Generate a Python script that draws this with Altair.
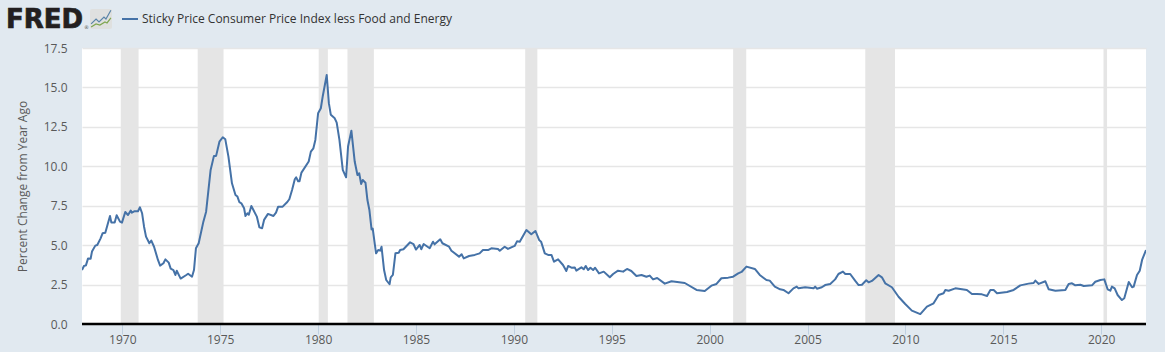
import altair as alt
import pandas as pd

SERIES = "Sticky Price Consumer Price Index less Food and Energy"

years = [
1967.94,1968.04,1968.14,1968.25,1968.38,1968.45,1968.62,1968.72,1968.89,1968.99,1969.13,1969.37,1969.44,1969.61,1969.71,1969.88,1969.98,
1970.15,1970.29,1970.43,1970.49,1970.63,1970.80,1970.90,1971.01,1971.11,1971.21,1971.38,1971.48,1971.62,1971.82,1971.93,
1972.10,1972.20,1972.37,1972.47,1972.61,1972.71,1972.78,1972.98,1973.25,1973.36,1973.56,1973.66,1973.76,1973.90,
1974.14,1974.28,1974.51,1974.68,1974.79,1974.96,1975.13,1975.26,1975.42,1975.60,1975.78,1975.88,1975.98,
1976.08,1976.22,1976.29,1976.39,1976.46,1976.59,1976.87,1977.00,1977.14,1977.24,1977.44,1977.72,1977.85,1977.96,
1978.19,1978.40,1978.53,1978.67,1978.81,1978.88,1978.98,1979.05,1979.15,1979.52,1979.63,1979.76,1979.86,
1980.00,1980.14,1980.24,1980.44,1980.55,1980.65,1980.85,1980.95,1981.09,1981.26,1981.43,1981.53,1981.70,1981.87,
1982.01,1982.10,1982.20,1982.28,1982.42,1982.52,1982.62,1982.73,1982.79,1982.96,1983.07,1983.17,1983.24,1983.37,1983.48,1983.65,1983.71,1983.82,1983.95,
1984.12,1984.19,1984.36,1984.70,1984.87,1985.00,
1985.19,1985.27,1985.39,1985.70,1985.87,1985.95,1986.24,1986.35,1986.69,1986.81,1987.20,1987.33,1987.44,1987.71,
1988.00,1988.25,1988.42,1988.68,1988.85,1989.19,1989.28,1989.53,1989.70,1990.04,1990.16,1990.30,1990.64,1990.89,
1991.10,1991.29,1991.39,1991.58,1991.75,1991.92,1992.05,1992.26,1992.51,1992.68,1992.77,1992.94,1993.11,1993.19,1993.45,1993.57,1993.67,1993.79,1993.91,
1994.05,1994.15,1994.35,1994.59,1994.90,1995.07,1995.32,1995.58,1995.78,1996.00,1996.26,1996.52,1996.77,1996.94,1997.11,1997.32,1997.71,
1998.05,1998.73,1999.33,1999.75,2000.09,2000.35,2000.60,2000.95,2001.20,2001.46,2001.63,2001.88,2002.31,2002.56,2002.90,2003.07,2003.33,2003.60,
2003.77,2004.03,2004.28,2004.45,2004.54,2004.88,2005.31,2005.39,2005.48,2005.73,2005.90,2006.16,2006.41,2006.58,2006.81,2006.93,2007.18,2007.44,2007.61,2007.78,
2008.00,2008.12,2008.29,2008.63,2008.80,2008.97,2009.31,2009.65,2009.99,2010.33,2010.76,2011.10,2011.44,2011.70,2011.95,2012.04,2012.21,2012.55,2012.89,
2013.14,2013.40,2013.65,2013.91,2014.17,2014.34,2014.51,2014.68,2015.19,2015.53,2015.87,2016.29,2016.55,2016.64,2016.81,2017.15,2017.32,2017.66,
2018.17,2018.34,2018.51,2018.68,2018.94,2019.11,2019.53,2019.70,2019.96,2020.16,2020.33,2020.47,2020.55,2020.69,2020.84,2021.06,2021.18,2021.41,2021.58,2021.66,2021.83,2021.97,2022.09,2022.29,
]
values = [
3.42,3.68,3.72,4.16,4.14,4.59,4.97,5.01,5.43,5.75,5.79,6.85,6.43,6.43,6.89,6.49,6.43,
7.10,6.91,7.19,7.06,7.15,7.15,7.40,7.02,6.17,5.54,5.12,5.29,4.90,4.06,3.70,
3.85,4.10,3.89,3.51,3.42,3.11,3.38,2.88,3.09,3.19,3.00,3.42,4.80,5.12,
6.49,7.12,9.77,10.66,10.66,11.56,11.84,11.71,10.61,8.92,8.18,8.08,7.72,
7.65,7.34,6.85,7.02,6.93,7.48,6.81,6.13,6.07,6.60,6.98,6.85,7.06,7.44,
7.44,7.70,7.91,8.50,9.18,9.30,9.05,9.05,9.60,10.30,10.93,11.14,11.67,
13.36,13.68,14.46,15.79,14.00,13.26,13.04,12.77,11.67,9.77,9.30,11.25,12.26,10.30,
9.45,9.56,8.88,9.13,8.96,7.86,7.23,6.00,6.05,4.48,4.69,4.65,4.90,3.42,2.79,2.52,2.96,3.11,4.48,
4.52,4.69,4.74,5.18,5.07,4.72,
5.01,4.74,5.07,4.80,5.22,5.05,5.37,5.12,4.90,4.65,4.27,4.42,4.16,4.31,
4.38,4.48,4.69,4.69,4.80,4.76,4.65,4.90,4.76,4.95,5.24,5.22,5.96,5.69,
5.90,5.33,5.22,4.48,4.38,4.38,3.95,4.10,3.74,3.36,3.68,3.57,3.59,3.38,3.59,3.47,3.68,3.42,3.57,
3.42,3.57,3.21,3.32,2.96,3.17,3.38,3.32,3.49,3.36,3.04,3.11,3.00,3.07,2.83,2.92,2.56,
2.71,2.60,2.16,2.09,2.43,2.54,2.90,2.94,3.00,3.21,3.30,3.64,3.49,3.11,2.79,2.75,2.37,2.20,
2.16,1.95,2.26,2.37,2.26,2.33,2.26,2.37,2.24,2.33,2.47,2.54,2.83,3.17,3.32,3.17,3.17,2.73,2.47,2.49,
2.77,2.64,2.73,3.11,2.96,2.58,2.33,1.73,1.27,0.85,0.63,1.10,1.31,1.84,1.95,2.16,2.11,2.26,2.20,
2.16,1.90,1.90,1.88,1.78,2.16,2.16,1.95,2.03,2.16,2.45,2.56,2.60,2.75,2.54,2.71,2.20,2.11,
2.16,2.54,2.58,2.45,2.49,2.41,2.45,2.68,2.79,2.83,2.20,2.11,2.37,2.26,1.84,1.52,1.63,2.66,2.33,2.37,3.11,3.38,4.06,4.69,
]
rec_start = [1969.92, 1973.85, 1980.03, 1981.50, 1990.58, 2001.20, 2007.95, 2020.12]
rec_end   = [1970.83, 1975.17, 1980.50, 1982.85, 1991.20, 2001.87, 2009.47, 2020.30]
x_ticks = [1970, 1975, 1980, 1985, 1990, 1995, 2000, 2005, 2010, 2015, 2020]
y_ticks = [0, 2.5, 5, 7.5, 10, 12.5, 15, 17.5]

df = pd.DataFrame({"year": years, "value": values, "series": SERIES})
rec = pd.DataFrame({"start": rec_start, "end": rec_end})

FONT = "Open Sans"
Y_TITLE = "Percent Change from Year Ago"
x_scale = alt.Scale(domain=[1967.94, 2022.29], nice=False, zero=False)
y_scale = alt.Scale(domain=[0, 17.5], nice=False)
x_axis = alt.Axis(values=x_ticks, format="d", grid=False, domain=False,
                  tickColor="#c0d0e0", tickSize=10, tickWidth=1,
                  labelColor="#595959", labelFont=FONT, labelFontSize=12,
                  labelPadding=0, labelFlush=False, labelOverlap=False)
y_axis = alt.Axis(values=y_ticks, format=".1f", ticks=False, domain=False,
                  grid=True, gridColor="#e6e6e6", gridWidth=1.5,
                  labelColor="#595959", labelFont=FONT, labelFontSize=12,
                  labelPadding=15, labelOverlap=False,
                  titleColor="#595959", titleFont=FONT,
                  titleFontSize=12, titleFontWeight="normal", titlePadding=14)

bands = alt.Chart(rec).mark_rect(color="#e5e5e5").encode(
    x=alt.X("start:Q", scale=x_scale, axis=x_axis, title=None),
    x2="end:Q",
    y=alt.value(0),
    y2=alt.value(276),
)

baseline = alt.Chart(pd.DataFrame({"v": [0]})).mark_rule(color="#000000", strokeWidth=2.5).encode(
    y=alt.Y("v:Q", scale=y_scale, axis=y_axis, title=Y_TITLE),
)

line = alt.Chart(df).mark_line(strokeWidth=2, strokeJoin="round", clip=True).encode(
    x=alt.X("year:Q", scale=x_scale, axis=x_axis, title=None),
    y=alt.Y("value:Q", scale=y_scale, axis=y_axis, title=Y_TITLE),
    color=alt.Color("series:N", scale=alt.Scale(domain=[SERIES], range=["#4572a7"]),
                    legend=alt.Legend(title=None, orient="none", legendX=39, legendY=-38,
                                      symbolType="stroke", symbolSize=256, symbolStrokeWidth=2,
                                      labelFont=FONT, labelFontSize=12, labelColor="#333333",
                                      labelLimit=500, labelOffset=3, padding=0)),
)

logo = alt.Chart(pd.DataFrame({"t": ["FRED"]})).mark_text(
    font="DejaVu Sans", fontWeight="bold", fontSize=26, align="left", baseline="alphabetic",
    color="#231f20", stroke="#231f20", strokeWidth=0.7,
).encode(text="t:N", x=alt.value(-76), y=alt.value(-20))

reg = alt.Chart(pd.DataFrame({"t": ["®"]})).mark_text(
    font="DejaVu Sans", fontSize=5, align="left", baseline="alphabetic", color="#555555",
).encode(text="t:N", x=alt.value(2), y=alt.value(-19))

icon_base = alt.Chart(pd.DataFrame({"t": ["icon"]}))
icon_bg = icon_base.mark_rect(color="#dfe0df", cornerRadius=2).encode(
    x=alt.value(8), x2=alt.value(30), y=alt.value(-39), y2=alt.value(-19))
icon_blue = icon_base.mark_point(
    shape="M-.9,.45L-.45,0L-.18,.27L.27,-.18L.45,0L.9,-.8", size=484, filled=False, opacity=1,
    stroke="#5a84a8", strokeWidth=1.2,
).encode(x=alt.value(19), y=alt.value(-29))
icon_green = icon_base.mark_point(
    shape="M-.9,.72L-.45,.45L-.1,.55L.36,.27L.55,.36L.9,-.1", size=484, filled=False, opacity=1,
    stroke="#7fa650", strokeWidth=1.2,
).encode(x=alt.value(19), y=alt.value(-29))

chart = alt.layer(bands, baseline, line, logo, reg, icon_bg, icon_blue, icon_green).properties(
    width=1064, height=276,
    background="#e1e9f0",
    padding={"left": 82, "top": 48, "right": 19, "bottom": 28},
    autosize=alt.AutoSizeParams(type="none"),
).configure_view(fill="#ffffff", stroke=None)

chart.save("out.html", embed_options={
    "renderer": "svg", "actions": False,
    "defaultStyle": "html,body{background:#e1e9f0;overflow:hidden;margin:0}",
})
